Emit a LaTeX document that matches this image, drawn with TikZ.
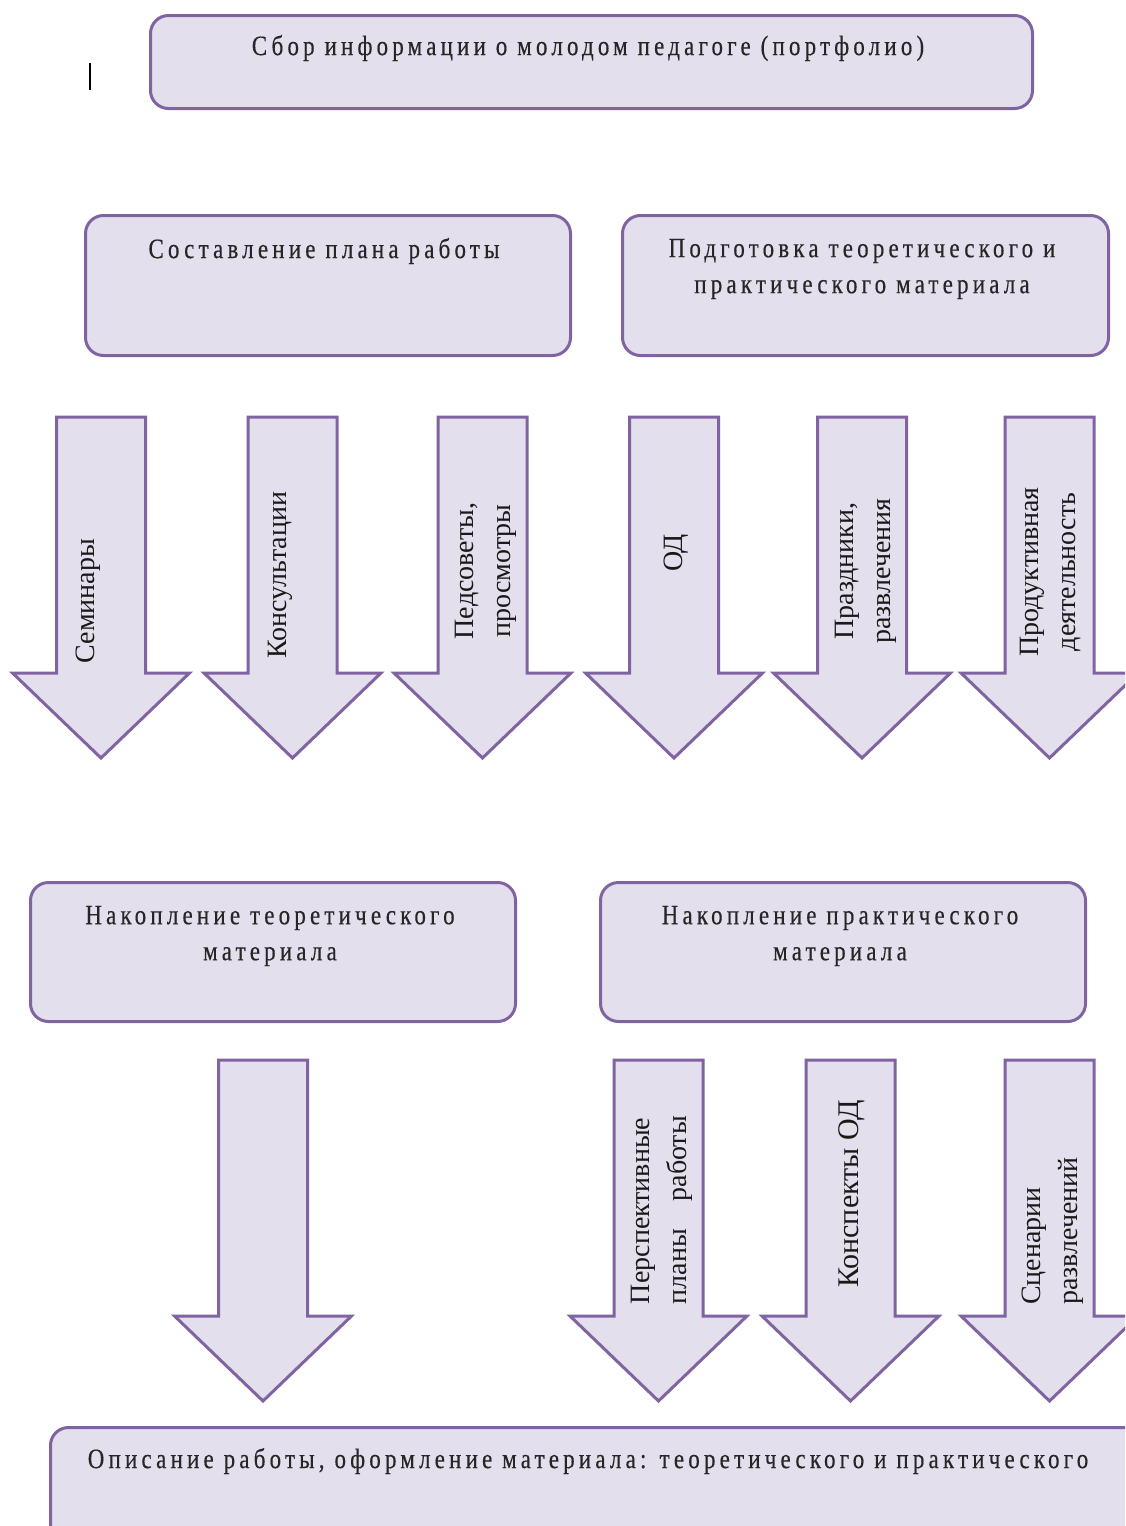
\documentclass[tikz,border=0pt]{standalone}
\usepackage{fontspec}
\setmainfont{Liberation Serif}
\newfontfamily\boxfont[FakeStretch=0.82,LetterSpace=15,FakeBold=0.4]{Liberation Serif}
\definecolor{bfill}{HTML}{E4DFEC}
\definecolor{bline}{HTML}{8064A2}
\tikzset{
  box/.style={draw=bline, fill=bfill, line width=3pt, rounded corners=18pt, anchor=north west, inner sep=0pt},
  btext/.style={font=\boxfont\fontsize{28}{36}\selectfont, align=center, inner sep=0pt, text=black!85},
  vtext/.style={font=\fontsize{28}{37}\selectfont, rotate=90, inner sep=0pt, text=black!90},
  barrow/.style={draw=bline, fill=bfill, line width=3pt, line join=miter},
}
\newcommand\blockarrow[3]{%
  \path[barrow] (#2-44.5,#3) -- (#2+44.5,#3) -- (#2+44.5,#3+256) -- (#2+88.5,#3+256)
     -- (#2,#3+341) -- (#2-88.5,#3+256) -- (#2-44.5,#3+256) -- cycle;
  \coordinate (#1) at (#2,#3);
}
\begin{document}
\begin{tikzpicture}[x=1pt,y=-1pt]
\useasboundingbox (0,0) rectangle (1125,1526);
\clip (0,0) rectangle (1125,1526);
\fill[white] (0,0) rectangle (1125,1526);

% stray cursor bar
\draw[line width=2pt] (90,63) -- (90,90);

% boxes
\node[box, minimum width=882pt, minimum height=93pt] (b0) at (149,14) {};
\node[btext] (t0) at (588,48) {Сбор информации о молодом педагоге (портфолио)};

\node[box, minimum width=485pt, minimum height=140pt] (b1) at (84,214) {};
\node[btext] (t1) at (324,251) {Составление плана работы};

\node[box, minimum width=486pt, minimum height=140pt] (b2) at (621,214) {};
\node[btext] (t2) at (862,269) {Подготовка теоретического и\\практического материала};

\node[box, minimum width=485pt, minimum height=139pt] (b3) at (29,881) {};
\node[btext] (t3) at (270,936) {Накопление теоретического\\материала};

\node[box, minimum width=485pt, minimum height=139pt] (b4) at (599,881) {};
\node[btext] (t4) at (840,936) {Накопление практического\\материала};

\node[box, minimum width=1100pt, minimum height=130pt] (b5) at (49,1426) {};
\node[btext] (t5) at (588,1461) {Описание работы, оформление материала: теоретического и практического};

% arrows row 1
\blockarrow{a1}{101}{417}
\blockarrow{a2}{292.5}{417}
\blockarrow{a3}{482.5}{417}
\blockarrow{a4}{674}{417}
\blockarrow{a5}{862}{417}
\blockarrow{a6}{1049.5}{417}

\node[vtext] (v1) at (88,601) {Семинары};
\node[vtext] (v2) at (280,575) {Консультации};
\node[vtext, align=center] (v3) at (486,571) {Педсоветы,\\просмотры};
\node[vtext] (v4) at (676,553) {ОД};
\node[vtext, align=center] (v5) at (866,571) {Праздники,\\развлечения};
\node[vtext, align=center] (v6) at (1051,572) {Продуктивная\\деятельность};

% arrows row 4
\blockarrow{c1}{263}{1060}
\blockarrow{c2}{658.5}{1060}
\blockarrow{c3}{850.5}{1060}
\blockarrow{c4}{1049.5}{1060}

\node[vtext, align=left] (w2) at (662,1210) {Перспективные\\\hbox to 188pt{планы\hfill работы}};
\node[vtext, font=\fontsize{30}{37}\selectfont] (w3) at (852,1194) {Конспекты ОД};
\node[vtext, align=left] (w4) at (1053,1231) {Сценарии\\развлечений};
\end{tikzpicture}
\end{document}
